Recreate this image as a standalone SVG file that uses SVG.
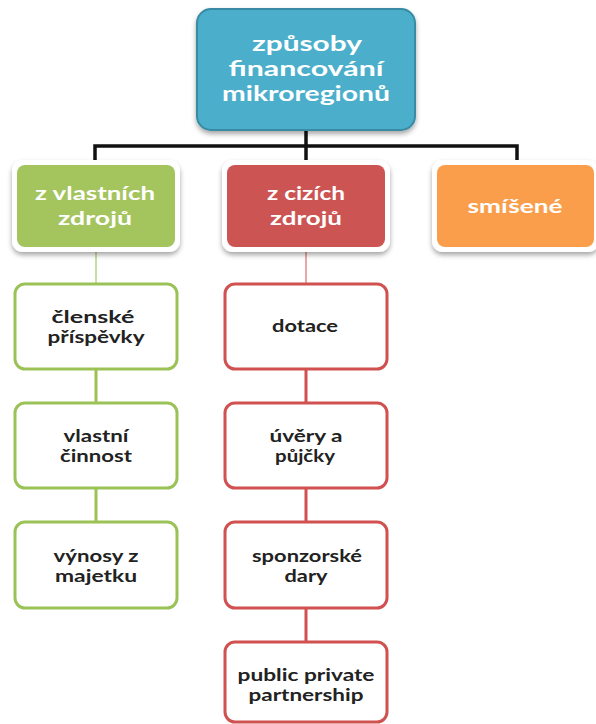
<svg xmlns="http://www.w3.org/2000/svg" width="596" height="724" viewBox="0 0 596 724">
<defs>
<filter id="sh" x="-10%" y="-10%" width="120%" height="130%">
<feDropShadow dx="0" dy="3" stdDeviation="2.5" flood-color="#000" flood-opacity="0.35"/>
</filter>
<style>
.w{font-family:Lato,"Open Sans","DejaVu Sans",sans-serif;font-weight:bold;fill:#fff;text-anchor:middle}
.d{font-family:Lato,"Open Sans","DejaVu Sans",sans-serif;font-weight:bold;fill:#222;text-anchor:middle;font-size:16.5px}
.t{font-size:20.5px}
.l{font-size:19.5px}
.cg{fill:#fff;stroke:#9bc257;stroke-width:3}
.cr{fill:#fff;stroke:#d0514f;stroke-width:3}
.frame{fill:#fff;filter:url(#sh)}
</style>
</defs>
<rect width="596" height="724" fill="#fff"/>
<g id="connectors" fill="none">
<path d="M95,161 V146 H517 V161" stroke="#111" stroke-width="3.5"/>
<path d="M306,130 V161" stroke="#111" stroke-width="3.5"/>
<path d="M96,251 V283" stroke="#b5d38a" stroke-width="1.5"/>
<path d="M306,251 V283" stroke="#e08a88" stroke-width="1.5"/>
<path d="M96,369 V402 M96,488 V522" stroke="#9bc257" stroke-width="3"/>
<path d="M306,369 V402 M306,488 V522 M306,608 V642" stroke="#d0514f" stroke-width="3"/>
</g>
<g id="root">
<rect x="197" y="9" width="218" height="121" rx="14" fill="#4bafcb" stroke="#378ba3" stroke-width="2" filter="url(#sh)"/>
<text class="w t" x="307" y="51" textLength="110" lengthAdjust="spacingAndGlyphs">způsoby</text>
<text class="w t" x="306" y="76" textLength="155" lengthAdjust="spacingAndGlyphs">financování</text>
<text class="w t" x="306" y="101" textLength="168" lengthAdjust="spacingAndGlyphs">mikroregionů</text>
</g>
<g id="own">
<rect class="frame" x="12" y="160" width="168" height="92" rx="11"/>
<rect x="17" y="165" width="158" height="82" rx="8" fill="#a4c45e"/>
<text class="w l" x="95" y="200" textLength="120" lengthAdjust="spacingAndGlyphs">z vlastních</text>
<text class="w l" x="95" y="225" textLength="74" lengthAdjust="spacingAndGlyphs">zdrojů</text>
</g>
<g id="foreign">
<rect class="frame" x="222" y="160" width="168" height="92" rx="11"/>
<rect x="227" y="165" width="158" height="82" rx="8" fill="#cc5452"/>
<text class="w l" x="306" y="200" textLength="78" lengthAdjust="spacingAndGlyphs">z cizích</text>
<text class="w l" x="306" y="225" textLength="72" lengthAdjust="spacingAndGlyphs">zdrojů</text>
</g>
<g id="mixed">
<rect class="frame" x="432" y="160" width="167" height="92" rx="11"/>
<rect x="437" y="165" width="157" height="82" rx="8" fill="#fa9e4b"/>
<text class="w l" x="515" y="213" textLength="95" lengthAdjust="spacingAndGlyphs">smíšené</text>
</g>
<g id="clenske">
<rect class="cg" x="15" y="284" width="162" height="85" rx="10"/>
<text class="d" x="93" y="323" textLength="83" lengthAdjust="spacingAndGlyphs">členské</text>
<text class="d" x="96" y="343" textLength="97" lengthAdjust="spacingAndGlyphs">příspěvky</text>
</g>
<g id="cinnost">
<rect class="cg" x="15" y="403" width="162" height="85" rx="10"/>
<text class="d" x="96" y="442" textLength="65" lengthAdjust="spacingAndGlyphs">vlastní</text>
<text class="d" x="96" y="462" textLength="72" lengthAdjust="spacingAndGlyphs">činnost</text>
</g>
<g id="vynosy">
<rect class="cg" x="15" y="522" width="162" height="86" rx="10"/>
<text class="d" x="96" y="562" textLength="85" lengthAdjust="spacingAndGlyphs">výnosy z</text>
<text class="d" x="96" y="582" textLength="82" lengthAdjust="spacingAndGlyphs">majetku</text>
</g>
<g id="dotace">
<rect class="cr" x="225" y="284" width="162" height="85" rx="10"/>
<text class="d" x="305" y="332" textLength="66" lengthAdjust="spacingAndGlyphs">dotace</text>
</g>
<g id="uvery">
<rect class="cr" x="225" y="403" width="162" height="85" rx="10"/>
<text class="d" x="306" y="442" textLength="73" lengthAdjust="spacingAndGlyphs">úvěry a</text>
<text class="d" x="305" y="462" textLength="60" lengthAdjust="spacingAndGlyphs">půjčky</text>
</g>
<g id="sponzorske">
<rect class="cr" x="225" y="522" width="162" height="86" rx="10"/>
<text class="d" x="307" y="562" textLength="110" lengthAdjust="spacingAndGlyphs">sponzorské</text>
<text class="d" x="306" y="582" textLength="43" lengthAdjust="spacingAndGlyphs">dary</text>
</g>
<g id="ppp">
<rect class="cr" x="225" y="642" width="162" height="80" rx="10"/>
<text class="d" x="306" y="681" textLength="137" lengthAdjust="spacingAndGlyphs">public private</text>
<text class="d" x="306" y="701" textLength="115" lengthAdjust="spacingAndGlyphs">partnership</text>
</g>
</svg>
